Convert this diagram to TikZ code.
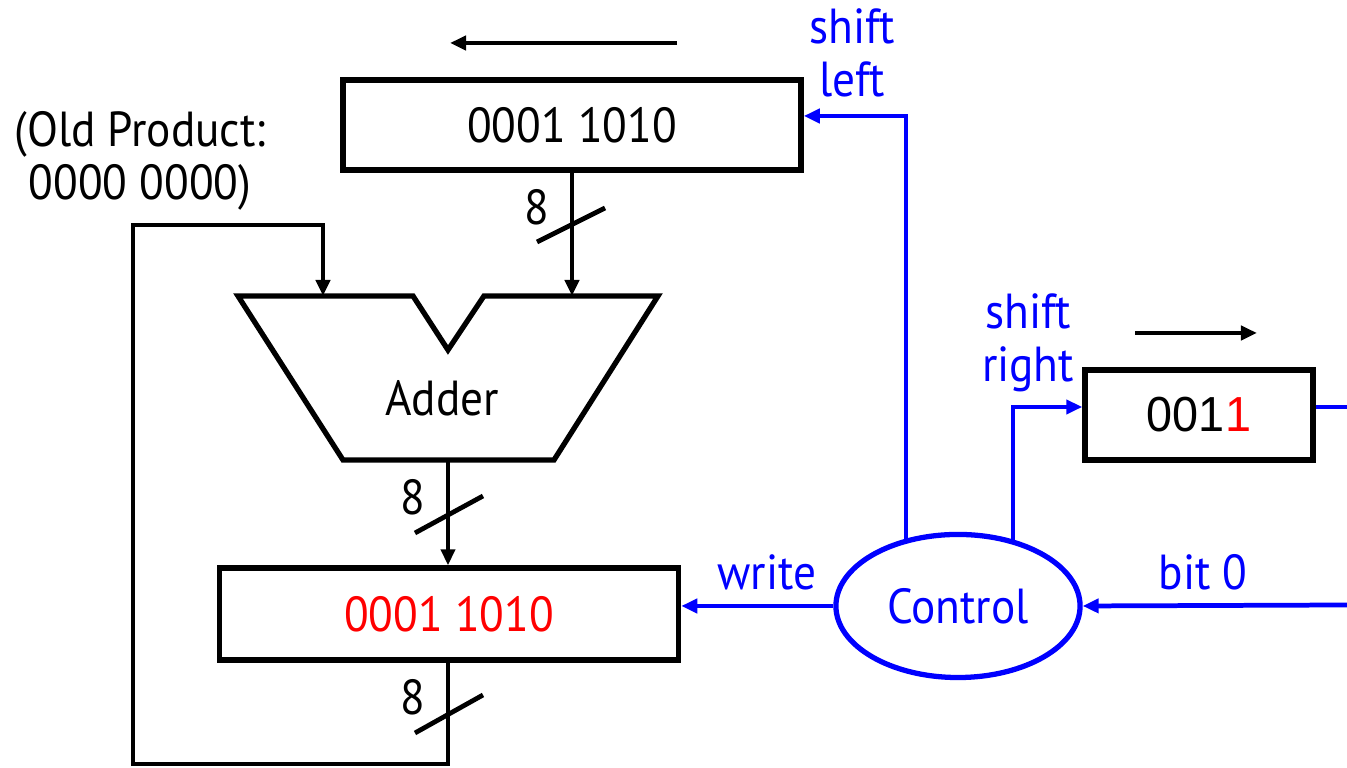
\documentclass[tikz,border=0pt]{standalone}
\usepackage{fontspec}
\setmainfont{PT Sans}[FakeStretch=0.92]
\newfontfamily\regfont{Liberation Sans}[FakeStretch=0.95]
\usepackage{xcolor}
\usetikzlibrary{arrows.meta}
\usetikzlibrary{shapes.geometric}

\begin{document}
\begin{tikzpicture}[x=0.01cm, y=-0.01cm,
    every node/.style={font=\fontsize{14}{15}\selectfont},
    wire/.style={line width=1.35pt, line join=miter},
    ctl/.style={wire, blue},
    tip/.style={-{Triangle[length=1.6mm,width=1.4mm]}},
    reg/.style={draw, line width=1.5pt, inner sep=0pt}]
    \useasboundingbox (0,0) rectangle (1347,768);

    % registers
    \node[reg, minimum width=4.58cm, minimum height=0.9cm] (mcand) at (572,125) {0001 1010};
    \node[reg, minimum width=4.59cm, minimum height=0.92cm] (prod) at (449,614) {\textcolor{red}{0001 1010}};
    \node[reg, minimum width=2.28cm, minimum height=0.9cm] (mplier) at (1199,415) {\regfont 001\textcolor{red}{1}};
    \node[draw=blue, text=blue, ellipse, line width=1.5pt, inner sep=0pt,
          minimum width=2.44cm, minimum height=1.43cm] (ctrl) at (958,606) {Control};

    % adder
    \draw[wire, line width=1.5pt] (238,296) -- (413,296) -- (448,350) -- (484,296)
        -- (658,296) -- (554,460) -- (343,460) -- cycle;
    \node (adder) at (442,398) {Adder};
    \coordinate (inL) at (323,296);
    \coordinate (inR) at (572,296);
    \coordinate (out) at (448,460);

    % shift directions
    \draw[wire, tip] (677,43) -- (450,43);
    \draw[wire, tip] (1135,333) -- (1257,333);

    % datapath
    \draw[wire, tip] (mcand.south) -- (inR);
    \draw[wire] (537,242) -- (605,208);
    \node (w1) at (537,207) {8};
    \draw[wire, tip] (out) -- (out |- prod.north);
    \draw[wire] (415,533) -- (483,496);
    \node (w2) at (413,497) {8};
    \draw[wire, tip] (out |- prod.south) -- (448,764) -| (133,225) -| (inL);
    \draw[wire] (415,733) -- (483,695);
    \node (w3) at (413,697) {8};
    \node[align=center] (old) at (140,161) {(Old Product:\\0000 0000)};

    % control lines
    \coordinate (sl) at (906,540);
    \coordinate (sr) at (1013,540);
    \draw[ctl, tip] (sl) |- (mcand.east |- 0,116);
    \draw[ctl, tip] (sr) |- (mplier.west |- 0,407);
    \draw[ctl] (mplier.east |- 0,407) -- (1347,407);
    \draw[ctl, tip] (ctrl.west) -- (ctrl.west -| prod.east);
    \draw[ctl, tip] (1347,605) -- (ctrl.east);
    \node[blue, align=center] (lsl) at (852,53) {shift\\left};
    \node[blue, align=center] (lsr) at (1028,343) {shift\\right};
    \node[blue] (lw) at (767,572) {write};
    \node[blue] (lb) at (1203,572) {bit 0};
\end{tikzpicture}
\end{document}
